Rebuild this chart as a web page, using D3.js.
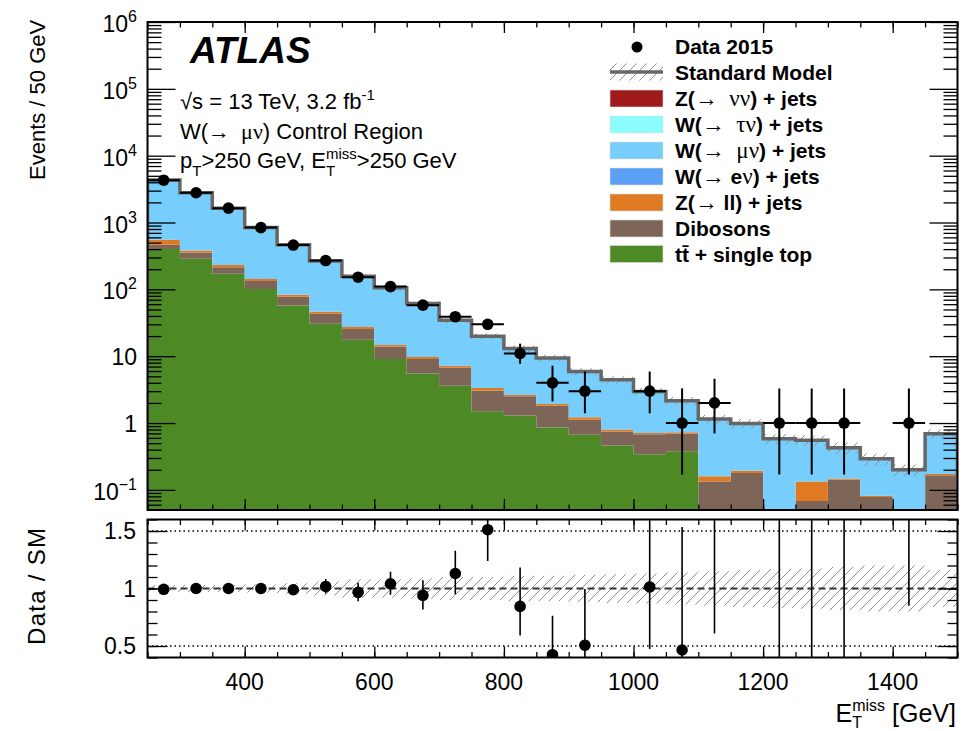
<!DOCTYPE html>
<html>
<head>
<meta charset="utf-8">
<script src="https://cdn.jsdelivr.net/npm/d3@7"></script>
<style>
  body { margin: 0; background: #fff; }
  svg text { font-family: "Liberation Sans", Arial, Helvetica, sans-serif; fill: #000; white-space: pre; }
  .sym { font-family: "Liberation Serif", "DejaVu Serif", serif; font-weight: normal; }
</style>
</head>
<body>
<svg id="plot" width="966" height="731"></svg>
<script>
// ---- data ----
const binLow  = [250, 300, 350, 400, 450, 500, 550, 600, 650, 700, 750, 800, 850, 900, 950, 1000, 1050, 1100, 1150, 1200, 1250, 1300, 1350, 1400, 1450];
const binHigh = [300, 350, 400, 450, 500, 550, 600, 650, 700, 750, 800, 850, 900, 950, 1000, 1050, 1100, 1150, 1200, 1250, 1300, 1350, 1400, 1450, 1500];

// backgrounds, events per bin
const ttbar   = [400, 287, 171, 101, 57.4, 30.6, 17.6, 9.1, 5.5, 3.6, 1.5, 1.3, 0.86, 0.67, 0.46, 0.34, 0.38, 0, 0, 0, 0, 0, 0, 0, 0];
const diboson = [64, 69, 44, 32, 20.1, 12.6, 7.9, 4.8, 3.6, 3.2, 1.58, 1.21, 0.96, 0.45, 0.29, 0.34, 0.315, 0.134, 0.179, 0, 0.068, 0.143, 0.078, 0, 0.165];
const zll     = [87, 26, 16, 10, 5.5, 3.1, 1.8, 0.8, 0.6, 0.4, 0.27, 0.12, 0.11, 0.1, 0.05, 0.03, 0.035, 0.026, 0.015, 0, 0.066, 0.005, 0.004, 0, 0.008];
const wenu    = [0, 0, 0, 0, 0, 0, 0, 0, 0, 0, 0, 0, 0, 0, 0, 0, 0, 0, 0, 0, 0, 0, 0, 0, 0];
const wmunu   = [3779, 2408, 1409, 697, 382, 219, 130, 91, 52, 27.3, 16.5, 10.4, 7.5, 4.7, 3.66, 2.25, 1.42, 0.99, 0.79, 0.58, 0.42, 0.28, 0.21, 0.2, 0.52];
const wtaunu  = [0, 0, 0, 0, 0, 0, 0, 0, 0, 0, 0, 0, 0, 0, 0, 0, 0, 0, 0, 0, 0, 0, 0, 0, 0];
const znunu   = [0, 0, 0, 0, 0, 0, 0, 0, 0, 0, 0, 0, 0, 0, 0, 0, 0, 0, 0, 0, 0, 0, 0, 0, 0];

// relative SM uncertainty (hatched band)
const smRelUnc = [0.03, 0.03, 0.03, 0.035, 0.045, 0.06, 0.08, 0.08, 0.09, 0.1, 0.1, 0.11, 0.11, 0.12, 0.125, 0.13, 0.14, 0.15, 0.16, 0.17, 0.175, 0.19, 0.2, 0.2, 0.16];

// data 2015 with poisson error bars
const dataCounts  = [4300, 2790, 1640, 840, 460, 270, 152, 110, 58, 39, 30, 11, 4, 3, 0, 3, 1, 2, 0, 1, 1, 1, 0, 1, 0];
const dataErrUp   = [66, 53, 41, 30, 22, 17, 13, 11, 8.1, 6.8, 6.0, 4.4, 3.2, 2.9, 0, 2.9, 2.3, 2.6, 0, 2.3, 2.3, 2.3, 0, 2.3, 0];
const dataErrDown = [66, 53, 40, 29, 21, 16, 12, 10, 7.6, 6.2, 5.4, 3.3, 1.9, 1.6, 0, 1.6, 0.83, 1.3, 0, 0.83, 0.83, 0.83, 0, 0.83, 0];

// ticks
const xMajor = [400, 600, 800, 1000, 1200, 1400];
const yMajor = [0.1, 1, 10, 100, 1e3, 1e4, 1e5, 1e6];
const ratioMajor = [0.5, 1, 1.5];

// stack order bottom -> top
const keys   = ["ttbar", "diboson", "zll", "wenu", "wmunu", "wtaunu", "znunu"];
const colors = {
    znunu: "#a01c1c", wtaunu: "#8cfcfc", wmunu: "#77cdfb", wenu: "#5aa0f6",
    zll: "#e07a22", diboson: "#7d6658", ttbar: "#4d8a26"
};
const legendKeys = ["znunu", "wtaunu", "wmunu", "wenu", "zll", "diboson", "ttbar"];

// ---- geometry ----
const X0 = 147.5, X1 = 957.5;
const mainTop = 22, mainBot = 510;
const ratTop = 519.5, ratBot = 657.5;
const yMin = 0.05, yMax = 1e6;

const svg = d3.select("#plot");
const defs = svg.append("defs");

const x = d3.scaleLinear().domain([250, 1500]).range([X0, X1]);
const y = d3.scaleLog().domain([yMin, yMax]).range([mainBot, mainTop]);
const yr = d3.scaleLinear().domain([0.4, 1.6]).range([ratBot, ratTop]);
const ySafe = v => y(Math.max(v, yMin));

// hatch pattern
const pat = defs.append("pattern")
    .attr("id", "hatch")
    .attr("patternUnits", "userSpaceOnUse")
    .attr("width", 10).attr("height", 10);
pat.append("path")
    .attr("d", "M-1,11 L11,-1 M-6,6 L6,-6 M4,16 L16,4")
    .attr("stroke", "#8f8f8f").attr("stroke-width", 1);

defs.append("clipPath").attr("id", "clipMain")
    .append("rect").attr("x", X0).attr("y", mainTop).attr("width", X1 - X0).attr("height", mainBot - mainTop);
defs.append("clipPath").attr("id", "clipRat")
    .append("rect").attr("x", X0).attr("y", ratTop).attr("width", X1 - X0).attr("height", ratBot - ratTop);

// ---- build stack ----
const series = { ttbar, diboson, zll, wenu, wmunu, wtaunu, znunu };
const rows = binLow.map((lo, i) => {
    const r = { lo: lo, hi: binHigh[i] };
    keys.forEach(k => r[k] = series[k][i]);
    return r;
});
const stacked = d3.stack().keys(keys)(rows);
const total = stacked[stacked.length - 1].map(d => d[1]);

function stepPoints(v0, v1) {
    const pts = binLow.map((lo, i) => ({ x: lo, a: v0[i], b: v1[i] }));
    const n = pts.length - 1;
    pts.push({ x: binHigh[n], a: v0[n], b: v1[n] });
    return pts;
}

const main = svg.append("g").attr("clip-path", "url(#clipMain)");

const area = d3.area()
    .x(p => x(p.x))
    .y0(p => ySafe(p.a))
    .y1(p => ySafe(p.b))
    .curve(d3.curveStepAfter);

stacked.forEach(s => {
    main.append("path")
        .attr("d", area(stepPoints(s.map(d => d[0]), s.map(d => d[1]))))
        .attr("fill", colors[s.key])
        .attr("stroke", "none");
});

// SM uncertainty hatch
main.append("path")
    .attr("d", area(stepPoints(total.map((t, i) => t * (1 - smRelUnc[i])), total.map((t, i) => t * (1 + smRelUnc[i])))))
    .attr("fill", "url(#hatch)");

// SM outline
const linePts = [{ x: 250, v: yMin }]
    .concat(binLow.map((lo, i) => ({ x: lo, v: total[i] })))
    .concat([{ x: 1500, v: total[total.length - 1] }, { x: 1500, v: yMin }]);
main.append("path")
    .attr("d", d3.line().x(p => x(p.x)).y(p => ySafe(p.v)).curve(d3.curveStepAfter)(linePts))
    .attr("fill", "none")
    .attr("stroke", "#666")
    .attr("stroke-width", 3.5);

// data points
const dataIdx = d3.range(binLow.length).filter(i => dataCounts[i] > 0);
const dg = main.append("g");
dataIdx.forEach(i => {
    const cx = x((binLow[i] + binHigh[i]) / 2), cy = y(dataCounts[i]);
    dg.append("line")
        .attr("x1", x(binLow[i])).attr("x2", x(binHigh[i]))
        .attr("y1", cy).attr("y2", cy)
        .attr("stroke", "#000").attr("stroke-width", 2);
    dg.append("line")
        .attr("x1", cx).attr("x2", cx)
        .attr("y1", ySafe(dataCounts[i] - dataErrDown[i])).attr("y2", y(dataCounts[i] + dataErrUp[i]))
        .attr("stroke", "#000").attr("stroke-width", 2);
    dg.append("circle").attr("cx", cx).attr("cy", cy).attr("r", 5.8).attr("fill", "#000");
});

// ---- main axes (ROOT style: ticks inside on all sides) ----
const minorX = binLow.concat([1500]);
const minorY = [];
for (let e = -2; e < 6; e++) for (let m = 2; m <= 9; m++) {
    const v = m * Math.pow(10, e);
    if (v > yMin && v < yMax) minorY.push(v);
}

function ticks(g, axis, vals, size) {
    g.call(axis.tickValues(vals).tickSize(size).tickFormat(""));
    g.select(".domain").remove();
    g.selectAll("line").attr("stroke", "#000").attr("stroke-width", 1.3);
}

ticks(svg.append("g").attr("transform", `translate(0,${mainBot})`), d3.axisBottom(x), xMajor, -11);
ticks(svg.append("g").attr("transform", `translate(0,${mainBot})`), d3.axisBottom(x), minorX, -5.5);
ticks(svg.append("g").attr("transform", `translate(0,${mainTop})`), d3.axisTop(x), xMajor, -11);
ticks(svg.append("g").attr("transform", `translate(0,${mainTop})`), d3.axisTop(x), minorX, -5.5);
ticks(svg.append("g").attr("transform", `translate(${X0},0)`), d3.axisLeft(y), yMajor, -28);
ticks(svg.append("g").attr("transform", `translate(${X0},0)`), d3.axisLeft(y), minorY, -14);
ticks(svg.append("g").attr("transform", `translate(${X1},0)`), d3.axisRight(y), yMajor, -28);
ticks(svg.append("g").attr("transform", `translate(${X1},0)`), d3.axisRight(y), minorY, -14);

svg.append("rect")
    .attr("x", X0).attr("y", mainTop).attr("width", X1 - X0).attr("height", mainBot - mainTop)
    .attr("fill", "none").attr("stroke", "#000").attr("stroke-width", 2);

// log labels 10^n
yMajor.forEach(v => {
    const e = Math.round(Math.log10(v));
    const t = svg.append("text")
        .attr("x", 137).attr("text-anchor", "end")
        .style("font-size", "23px");
    if (e === 0 || e === 1) {
        t.attr("y", y(v) + 8.5).text(e === 0 ? "1" : "10");
    } else {
        t.attr("y", y(v) + 10);
        t.append("tspan").text("10");
        t.append("tspan").attr("dy", -10).style("font-size", "16px").text(e < 0 ? "\u2212" + (-e) : String(e));
    }
});

// ---- ratio panel ----
const rat = svg.append("g").attr("clip-path", "url(#clipRat)");

const ratioArea = d3.area()
    .x(p => x(p.x)).y0(p => yr(p.a)).y1(p => yr(p.b))
    .curve(d3.curveStepAfter);
rat.append("path")
    .attr("d", ratioArea(stepPoints(smRelUnc.map(u => 1 - u), smRelUnc.map(u => 1 + u))))
    .attr("fill", "url(#hatch)");

[0.5, 1.5].forEach(v => {
    rat.append("line")
        .attr("x1", X0).attr("x2", X1).attr("y1", yr(v)).attr("y2", yr(v))
        .attr("stroke", "#000").attr("stroke-width", 1.3).attr("stroke-dasharray", "1.5,3");
});
rat.append("line")
    .attr("x1", X0).attr("x2", X1).attr("y1", yr(1)).attr("y2", yr(1))
    .attr("stroke", "#333").attr("stroke-width", 2.2).attr("stroke-dasharray", "7,4");

dataIdx.forEach(i => {
    const cx = x((binLow[i] + binHigh[i]) / 2);
    const r = dataCounts[i] / total[i];
    rat.append("line")
        .attr("x1", cx).attr("x2", cx)
        .attr("y1", yr((dataCounts[i] - dataErrDown[i]) / total[i]))
        .attr("y2", yr((dataCounts[i] + dataErrUp[i]) / total[i]))
        .attr("stroke", "#000").attr("stroke-width", 1.6);
    rat.append("circle").attr("cx", cx).attr("cy", yr(r)).attr("r", 5.8).attr("fill", "#000");
});

const minorR = [0.4, 0.5, 0.6, 0.7, 0.8, 0.9, 1.0, 1.1, 1.2, 1.3, 1.4, 1.5, 1.6];
ticks(svg.append("g").attr("transform", `translate(0,${ratBot})`), d3.axisBottom(x), xMajor, -11);
ticks(svg.append("g").attr("transform", `translate(0,${ratBot})`), d3.axisBottom(x), minorX, -5.5);
ticks(svg.append("g").attr("transform", `translate(0,${ratTop})`), d3.axisTop(x), xMajor, -11);
ticks(svg.append("g").attr("transform", `translate(0,${ratTop})`), d3.axisTop(x), minorX, -5.5);
ticks(svg.append("g").attr("transform", `translate(${X0},0)`), d3.axisLeft(yr), ratioMajor, -20);
ticks(svg.append("g").attr("transform", `translate(${X0},0)`), d3.axisLeft(yr), minorR, -10);
ticks(svg.append("g").attr("transform", `translate(${X1},0)`), d3.axisRight(yr), ratioMajor, -20);
ticks(svg.append("g").attr("transform", `translate(${X1},0)`), d3.axisRight(yr), minorR, -10);

svg.append("rect")
    .attr("x", X0).attr("y", ratTop).attr("width", X1 - X0).attr("height", ratBot - ratTop)
    .attr("fill", "none").attr("stroke", "#000").attr("stroke-width", 2);

ratioMajor.forEach(v => {
    svg.append("text")
        .attr("x", 136).attr("y", yr(v) + 8).attr("text-anchor", "end")
        .style("font-size", "23px").text(String(v));
});
xMajor.forEach(v => {
    svg.append("text")
        .attr("x", x(v)).attr("y", 690).attr("text-anchor", "middle")
        .style("font-size", "23px").text(String(v));
});

// ---- rich text helper (sub/superscripts, symbol font) ----
function richText(parent, x0, y0, size, parts) {
    const t = parent.append("text").attr("x", x0).attr("y", y0).style("font-size", size + "px");
    let cx = x0, lastStart = x0;
    parts.forEach(p => {
        const start = p.under ? lastStart : cx;
        const ts = t.append("tspan")
            .attr("x", start).attr("y", y0 + (p.dy || 0))
            .style("font-size", (p.size || size) + "px")
            .text(p.s);
        if (p.sym) ts.attr("class", "sym");
        const len = ts.node().getComputedTextLength();
        if (p.under) cx = Math.max(cx, start + len);
        else { lastStart = cx; cx += len; }
    });
    return { text: t, width: cx - x0 };
}

// axis titles
svg.append("text")
    .attr("transform", "translate(45,180) rotate(-90)")
    .style("font-size", "22px").text("Events / 50 GeV");
svg.append("text")
    .attr("transform", "translate(45,645) rotate(-90)")
    .style("font-size", "24px").style("letter-spacing", "1.3px").text("Data / SM");

const xt = svg.append("g");
const xtw = richText(xt, 0, 0, 25, [
    { s: "E" },
    { s: "miss", size: 16, dy: -11 },
    { s: "T", size: 16, dy: 6, under: true },
    { s: " [GeV]" }
]).width;
xt.attr("transform", `translate(${956 - xtw},722)`);

// ATLAS label + info
svg.append("text")
    .attr("x", 190).attr("y", 63)
    .style("font-size", "37px").style("font-weight", "bold").style("font-style", "italic")
    .text("ATLAS");

richText(svg, 180, 109, 22, [
    { s: "\u221As = 13 TeV, 3.2 fb" },
    { s: "-1", size: 15, dy: -9 }
]);
richText(svg, 180, 139, 22, [
    { s: "W(" },
    { s: "\u2192  \u03bc\u03bd", sym: true },
    { s: ") Control Region" }
]);
richText(svg, 180, 168, 22, [
    { s: "p" },
    { s: "T", size: 15, dy: 8 },
    { s: ">250 GeV, E" },
    { s: "miss", size: 15, dy: -9 },
    { s: "T", size: 15, dy: 8, under: true },
    { s: ">250 GeV" }
]);

// ---- legend ----
const lg = svg.append("g").style("font-weight", "bold");
const rowY = [46, 72, 98.5, 124.5, 150.5, 176.5, 202.5, 228.5, 254];
const legendText = {
    znunu:   [{ s: "Z(" }, { s: "\u2192  \u03bd\u03bd", sym: true, size: 23 }, { s: ") + jets" }],
    wtaunu:  [{ s: "W(" }, { s: "\u2192  \u03c4\u03bd", sym: true, size: 23 }, { s: ") + jets" }],
    wmunu:   [{ s: "W(" }, { s: "\u2192  \u03bc\u03bd", sym: true, size: 23 }, { s: ") + jets" }],
    wenu:    [{ s: "W(" }, { s: "\u2192 ", sym: true, size: 23 }, { s: "e" }, { s: "\u03bd", sym: true, size: 23 }, { s: ") + jets" }],
    zll:     [{ s: "Z(" }, { s: "\u2192 ", sym: true, size: 23 }, { s: "ll) + jets" }],
    diboson: [{ s: "Dibosons" }],
    ttbar:   [{ s: "tt\u0304 + single top" }]
};

lg.append("circle").attr("cx", 637).attr("cy", rowY[0] + 1).attr("r", 5.5).attr("fill", "#000");
richText(lg, 675, rowY[0] + 7.5, 21, [{ s: "Data 2015" }]);

lg.append("rect").attr("x", 610).attr("y", rowY[1] - 8.5).attr("width", 53).attr("height", 17).attr("fill", "url(#hatch)");
lg.append("line").attr("x1", 610).attr("x2", 663).attr("y1", rowY[1]).attr("y2", rowY[1])
    .attr("stroke", "#666").attr("stroke-width", 3.5);
richText(lg, 675, rowY[1] + 7.5, 21, [{ s: "Standard Model" }]);

legendKeys.forEach((k, j) => {
    const cy = rowY[j + 2];
    lg.append("rect").attr("x", 610).attr("y", cy - 8.5).attr("width", 53).attr("height", 17)
        .attr("fill", colors[k]).attr("stroke", "#ddd").attr("stroke-width", 0.6);
    richText(lg, 675, cy + 7.5, 21, legendText[k]);
});
</script>
</body>
</html>
